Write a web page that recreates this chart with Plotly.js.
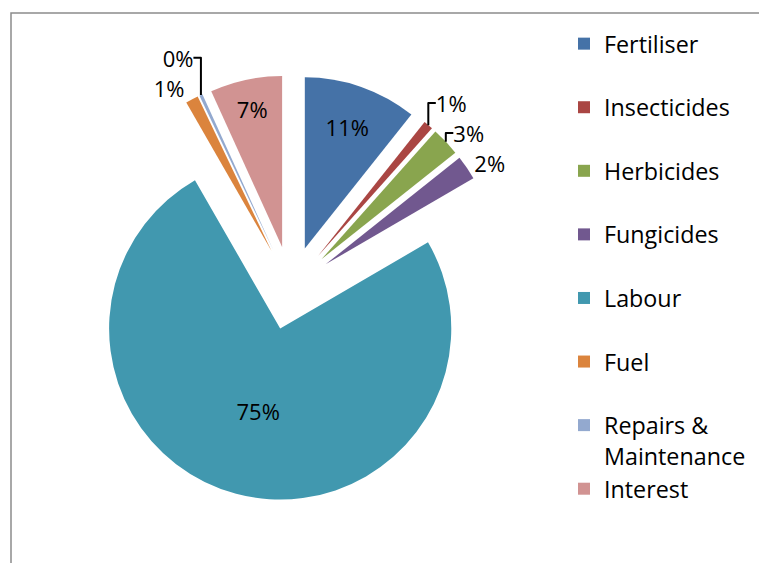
<!DOCTYPE html>
<html>
<head>
<meta charset="utf-8">
<script src="https://cdn.plot.ly/plotly-3.0.1.min.js"></script>
<style>
  html, body { margin: 0; padding: 0; background: #fff; }
  #chart { width: 759px; height: 563px; }
</style>
</head>
<body>
<div id="chart"></div>
<script>
// Categories (legend order, clockwise from 12 o'clock)
var categories = ["Fertiliser", "Insecticides", "Herbicides", "Fungicides", "Labour", "Fuel", "Repairs &<br>Maintenance", "Interest"];
// Share of total cost (%)
var shares = [10.7, 0.9, 2.7, 2.3, 75.1, 1.2, 0.3, 6.8];
var colors = ["#4572A7", "#AA4643", "#89A54E", "#71588F", "#4198AF", "#DB843D", "#93A9CF", "#D19392"];
var labelPositions = ["inside", "outside", "outside", "outside", "inside", "outside", "outside", "inside"];

// every legend entry spans two lines, like the wrapped "Repairs & Maintenance"
var legendLabels = categories.map(function (c) { return c.indexOf("<br>") >= 0 ? c : c + "<br>\u00a0"; });

var W = 759, H = 563;
var cx = 291, cy = 288, rOuter = 213;

var trace = {
  type: "pie",
  labels: legendLabels,
  values: shares,
  sort: false,
  direction: "clockwise",
  rotation: 0,
  pull: 0.245,
  marker: { colors: colors, line: { width: 0 } },
  texttemplate: "%{percent:.0%}",
  textposition: labelPositions,
  insidetextorientation: "horizontal",
  textfont: { family: "Open Sans", size: 22, color: "#000" },
  insidetextfont: { family: "Open Sans", size: 22, color: "#000" },
  outsidetextfont: { family: "Open Sans", size: 22, color: "#000" },
  domain: { x: [(cx - rOuter) / W, (cx + rOuter) / W], y: [(H - cy - rOuter) / H, (H - cy + rOuter) / H] },
  hoverinfo: "label+percent"
};

var layout = {
  width: W, height: H,
  margin: { l: 0, r: 0, t: 0, b: 0 },
  paper_bgcolor: "#fff",
  font: { family: "Open Sans", color: "#000" },
  showlegend: true,
  legend: {
    x: 564 / W, xanchor: "left",
    y: 1 - 22 / H, yanchor: "top",
    valign: "top",
    font: { family: "Open Sans", size: 23.3, color: "#000" },
    bgcolor: "rgba(0,0,0,0)"
  },
  shapes: [{
    type: "rect", xref: "paper", yref: "paper",
    x0: 11 / W, x1: 1.02, y0: -0.02, y1: 1 - 13 / H,
    line: { color: "#8c8c8c", width: 1.5 }
  }]
};

Plotly.newPlot("chart", [trace], layout, { displayModeBar: false, staticPlot: true });
</script>
</body>
</html>
